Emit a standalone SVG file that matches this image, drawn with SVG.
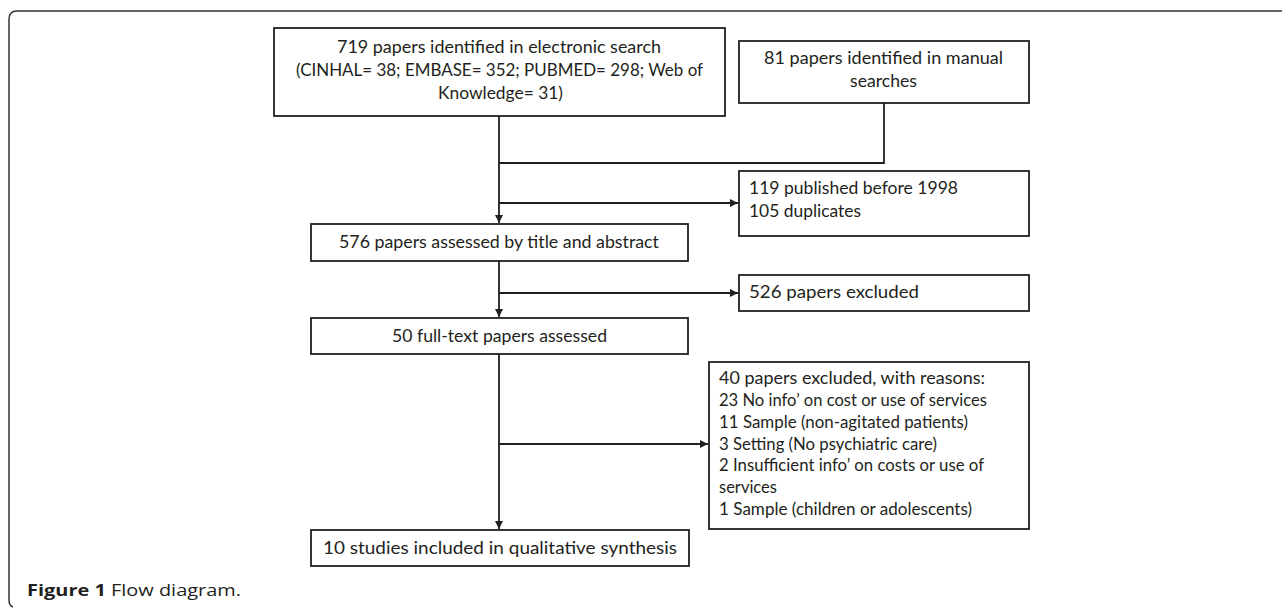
<svg xmlns="http://www.w3.org/2000/svg" width="1282" height="609" viewBox="0 0 1282 609">
<style>
.box{fill:#fff;stroke:#231f20;stroke-width:1.8}
.t{font-family:Lato,"Open Sans","Liberation Sans",sans-serif;font-size:18px;fill:#231f20}
.c{text-anchor:middle}
.ln{fill:none;stroke:#231f20;stroke-width:1.8}
.cap{font-family:"Open Sans","Liberation Sans",sans-serif;font-size:16.5px;fill:#231f20}
</style>
<defs>
<marker id="ah" viewBox="0 0 8 8" refX="8" refY="4" markerWidth="4.5" markerHeight="4.5" orient="auto" markerUnits="strokeWidth">
<path d="M0,0 L8,4 L0,8 z" fill="#231f20"/>
</marker>
</defs>
<rect width="1282" height="609" fill="#fff"/>
<path id="frame" d="M1282,11 H17 Q9,11 9,19 V600 Q9,606 13,607" fill="none" stroke="#333" stroke-width="1.5"/>
<g id="connectors">
<path class="ln" d="M499,116 V223" marker-end="url(#ah)"/>
<path class="ln" d="M884,103 V163 H499"/>
<path class="ln" d="M499,203 H738" marker-end="url(#ah)"/>
<path class="ln" d="M499,261 V317" marker-end="url(#ah)"/>
<path class="ln" d="M499,293 H738" marker-end="url(#ah)"/>
<path class="ln" d="M499,354 V529" marker-end="url(#ah)"/>
<path class="ln" d="M499,444 H708" marker-end="url(#ah)"/>
</g>
<g id="n1">
<rect class="box" x="274" y="28" width="451" height="88"/>
<text class="t c" x="499" y="53" textLength="324" lengthAdjust="spacingAndGlyphs">719 papers identified in electronic search</text>
<text class="t c" x="499.5" y="76" textLength="407" lengthAdjust="spacingAndGlyphs">(CINHAL= 38; EMBASE= 352; PUBMED= 298; Web of</text>
<text class="t c" x="500.5" y="99" textLength="125" lengthAdjust="spacingAndGlyphs">Knowledge= 31)</text>
</g>
<g id="n2">
<rect class="box" x="739" y="41" width="290" height="62"/>
<text class="t c" x="883.5" y="64" textLength="239" lengthAdjust="spacingAndGlyphs">81 papers identified in manual</text>
<text class="t c" x="883.5" y="87" textLength="67" lengthAdjust="spacingAndGlyphs">searches</text>
</g>
<g id="n3">
<rect class="box" x="739" y="171" width="290" height="65"/>
<text class="t" x="749" y="194" textLength="209" lengthAdjust="spacingAndGlyphs">119 published before 1998</text>
<text class="t" x="749" y="217" textLength="112" lengthAdjust="spacingAndGlyphs">105 duplicates</text>
</g>
<g id="n4">
<rect class="box" x="311" y="224" width="377" height="37"/>
<text class="t c" x="499" y="248" textLength="320" lengthAdjust="spacingAndGlyphs">576 papers assessed by title and abstract</text>
</g>
<g id="n5">
<rect class="box" x="739" y="275" width="290" height="36"/>
<text class="t" x="749" y="298" textLength="170" lengthAdjust="spacingAndGlyphs">526 papers excluded</text>
</g>
<g id="n6">
<rect class="box" x="311" y="318" width="377" height="36"/>
<text class="t c" x="499.5" y="342" textLength="215" lengthAdjust="spacingAndGlyphs">50 full-text papers assessed</text>
</g>
<g id="n7">
<rect class="box" x="709" y="362" width="320" height="167"/>
<text class="t" x="719" y="384" textLength="266" lengthAdjust="spacingAndGlyphs">40 papers excluded, with reasons:</text>
<text class="t" x="719" y="406" textLength="268" lengthAdjust="spacingAndGlyphs">23 No info’ on cost or use of services</text>
<text class="t" x="719" y="428" textLength="249" lengthAdjust="spacingAndGlyphs">11 Sample (non-agitated patients)</text>
<text class="t" x="719" y="449.5" textLength="218" lengthAdjust="spacingAndGlyphs">3 Setting (No psychiatric care)</text>
<text class="t" x="719" y="471" textLength="265" lengthAdjust="spacingAndGlyphs">2 Insufficient info’ on costs or use of</text>
<text class="t" x="719" y="493" textLength="58" lengthAdjust="spacingAndGlyphs">services</text>
<text class="t" x="719" y="515" textLength="253" lengthAdjust="spacingAndGlyphs">1 Sample (children or adolescents)</text>
</g>
<g id="n8">
<rect class="box" x="311" y="530" width="378" height="36"/>
<text class="t c" x="500" y="554" textLength="354" lengthAdjust="spacingAndGlyphs">10 studies included in qualitative synthesis</text>
</g>
<g id="caption">
<text class="cap" x="27" y="596" textLength="214" lengthAdjust="spacingAndGlyphs"><tspan font-weight="bold">Figure 1</tspan> Flow diagram.</text>
</g>
</svg>
